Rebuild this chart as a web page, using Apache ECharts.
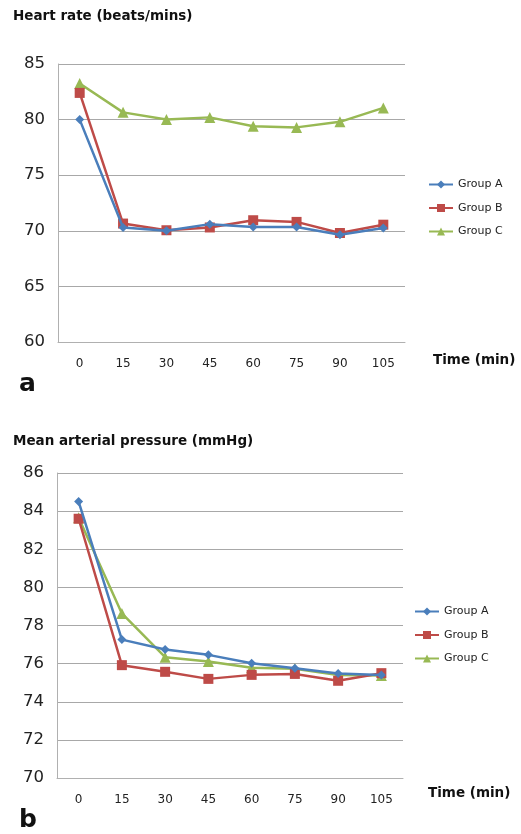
<!DOCTYPE html>
<html>
<head>
<meta charset="utf-8">
<script src="https://cdn.jsdelivr.net/npm/echarts@6/dist/echarts.min.js"></script>
<style>
html,body{margin:0;padding:0;background:#fff;}
#chart{width:521px;height:834px;}
</style>
</head>
<body>
<div id="chart"></div>
<script>
var timeCats = ['0', '15', '30', '45', '60', '75', '90', '105'];
var seriesNames = ['Group A', 'Group B', 'Group C'];

var hrGroupA = [80.0, 70.3, 70.0, 70.6, 70.35, 70.35, 69.65, 70.25];
var hrGroupB = [82.4, 70.65, 70.05, 70.3, 70.95, 70.8, 69.8, 70.55];
var hrGroupC = [83.25, 80.65, 80.0, 80.2, 79.4, 79.3, 79.8, 81.05];

var mapGroupA = [84.5, 77.26, 76.74, 76.46, 76.02, 75.76, 75.48, 75.4];
var mapGroupB = [83.6, 75.92, 75.57, 75.2, 75.41, 75.46, 75.1, 75.5];
var mapGroupC = [83.65, 78.63, 76.34, 76.11, 75.78, 75.73, 75.4, 75.38];

var colors = ['#4a7ebb', '#be4b48', '#98b954'];
var symbols = ['diamond', 'rect', 'triangle'];
var symbolSizes = [9, 10, 11];
var FONT = 'DejaVu Sans';

function mkSeries(name, idx, data, axisIdx) {
  return {
    name: name, type: 'line', data: data,
    xAxisIndex: axisIdx, yAxisIndex: axisIdx,
    symbol: symbols[idx], symbolSize: symbolSizes[idx],
    showAllSymbol: true,
    lineStyle: {color: colors[idx], width: 2.5},
    itemStyle: {color: colors[idx]},
    z: 3 - idx + 2,
    animation: false
  };
}

function mkX(gridIdx) {
  return {
    type: 'category', gridIndex: gridIdx, data: timeCats, boundaryGap: true,
    axisLine: {lineStyle: {color: '#b0b0b0', width: 1}},
    axisTick: {alignWithLabel: true, length: 4, lineStyle: {color: '#b0b0b0'}},
    axisLabel: {fontFamily: FONT, fontSize: 12, color: '#222', margin: 16}
  };
}
function mkY(gridIdx, min, max, interval) {
  return {
    type: 'value', gridIndex: gridIdx, min: min, max: max, interval: interval,
    axisLine: {show: true, lineStyle: {color: '#b0b0b0', width: 1}},
    axisTick: {show: false},
    splitLine: {lineStyle: {color: '#a8a8a8', width: 1}},
    axisLabel: {fontFamily: FONT, fontSize: 16.5, color: '#222', margin: 13}
  };
}
function mkTitle(text, left, top, size) {
  return {text: text, left: left, top: top, padding: 0,
    textStyle: {fontFamily: FONT, fontSize: size, fontWeight: 'bold', color: '#111'}};
}

var chart = echarts.init(document.getElementById('chart'), null, {renderer: 'canvas'});
chart.setOption({
  backgroundColor: '#fff',
  animation: false,
  title: [
    mkTitle('Heart rate (beats/mins)', 13, 9, 13.5),
    mkTitle('Time (min)', 433, 353, 13.5),
    mkTitle('a', 19, 372, 25),
    mkTitle('Mean arterial pressure (mmHg)', 13, 434, 13.5),
    mkTitle('Time (min)', 428, 786, 13.5),
    mkTitle('b', 19, 808, 25)
  ],
  legend: [
    {orient: 'vertical', left: 428, top: 179, padding: 0, itemWidth: 24, itemHeight: 10, itemGap: 12.5,
     data: seriesNames, textStyle: {fontFamily: FONT, fontSize: 11, color: '#222'}},
    {orient: 'vertical', left: 414, top: 606, padding: 0, itemWidth: 24, itemHeight: 10, itemGap: 12.5,
     data: seriesNames, textStyle: {fontFamily: FONT, fontSize: 11, color: '#222'}}
  ],
  grid: [
    {left: 58, top: 64, width: 347, height: 278},
    {left: 57, top: 473, width: 346, height: 305}
  ],
  xAxis: [mkX(0), mkX(1)],
  yAxis: [mkY(0, 60, 85, 5), mkY(1, 70, 86, 2)],
  series: [
    mkSeries('Group A', 0, hrGroupA, 0),
    mkSeries('Group B', 1, hrGroupB, 0),
    mkSeries('Group C', 2, hrGroupC, 0),
    mkSeries('Group A', 0, mapGroupA, 1),
    mkSeries('Group B', 1, mapGroupB, 1),
    mkSeries('Group C', 2, mapGroupC, 1)
  ]
});
</script>
</body>
</html>
